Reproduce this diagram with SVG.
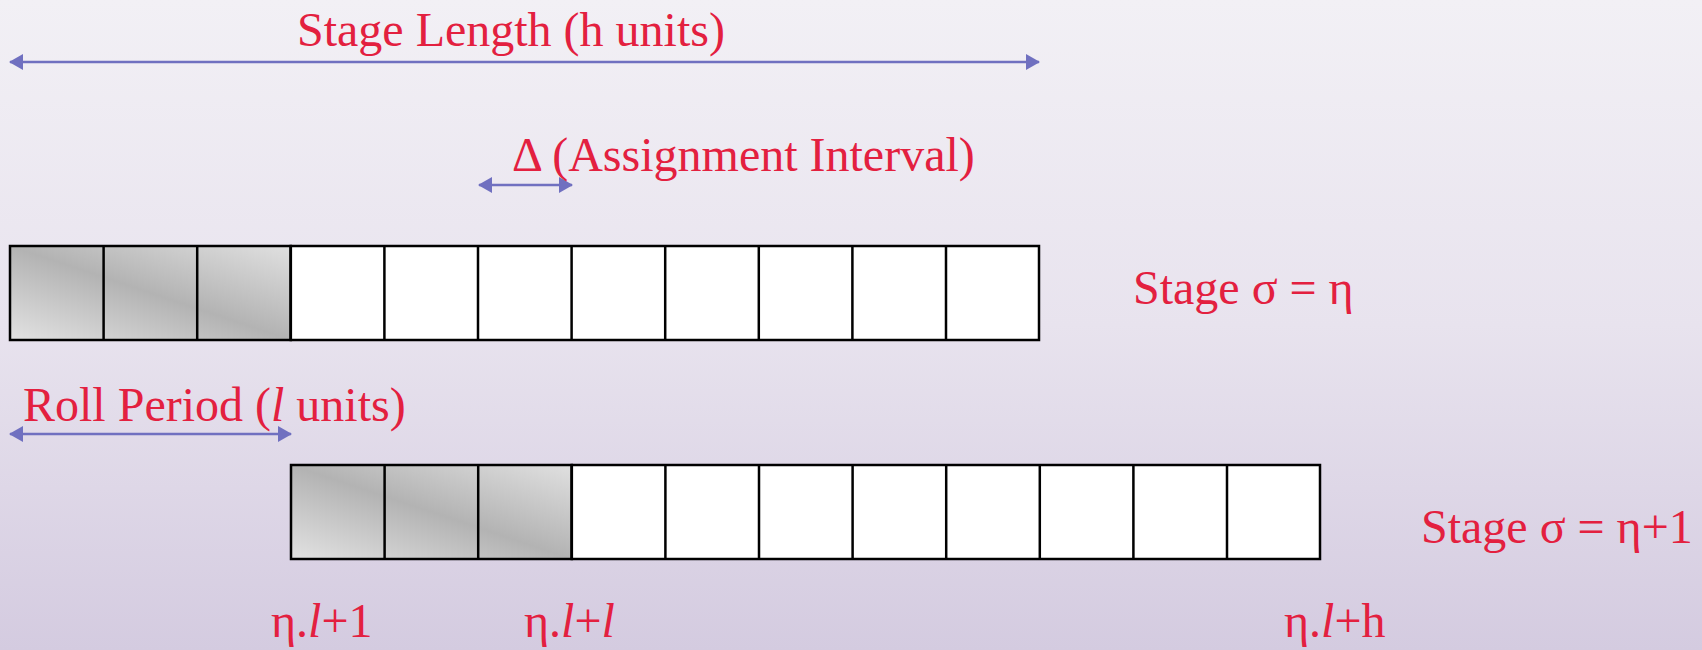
<svg xmlns="http://www.w3.org/2000/svg" width="1702" height="650" viewBox="0 0 1702 650">
<defs>
<linearGradient id="bg" x1="0" y1="0" x2="0" y2="1">
<stop offset="0" stop-color="#F2F0F5"/>
<stop offset="0.5" stop-color="#E8E3EE"/>
<stop offset="1" stop-color="#D4CBE0"/>
</linearGradient>
<linearGradient id="shade" x1="0" y1="1" x2="1" y2="0">
<stop offset="0" stop-color="#E2E2E2"/>
<stop offset="0.5" stop-color="#B3B3B3"/>
<stop offset="1" stop-color="#E0E0E0"/>
</linearGradient>
<marker id="ah" viewBox="0 0 14 16" refX="13" refY="8" markerWidth="14" markerHeight="16" markerUnits="userSpaceOnUse" orient="auto-start-reverse">
<path d="M0,0 L14,8 L0,16 Z" fill="#7070C0"/>
</marker>
</defs>
<style>
.t{font-family:"Liberation Serif","Times New Roman",serif;font-size:48px;fill:#E3203F}
.c{fill:#FFFFFF;stroke:#000;stroke-width:2.5}
.s{fill:url(#shade);stroke:#000;stroke-width:2.5}
.a{stroke:#7070C0;stroke-width:2.5;fill:none;marker-start:url(#ah);marker-end:url(#ah)}
</style>
<rect x="0" y="0" width="1702" height="650" fill="url(#bg)"/>

<g id="stage-eta">
<rect class="s" x="10" y="246" width="280.8" height="94"/>
<rect class="c" x="290.8" y="246" width="748.2" height="94"/>
<path d="M103.6,246V340M197.2,246V340M290.8,246V340M384.4,246V340M478,246V340M571.6,246V340M665.2,246V340M758.8,246V340M852.4,246V340M946,246V340" stroke="#000" stroke-width="2.5"/>
</g>

<g id="stage-eta-plus-1">
<rect class="s" x="291" y="465" width="280.8" height="94"/>
<rect class="c" x="571.8" y="465" width="748.2" height="94"/>
<path d="M384.6,465V559M478.2,465V559M571.8,465V559M665.4,465V559M759,465V559M852.6,465V559M946.2,465V559M1039.8,465V559M1133.4,465V559M1227,465V559" stroke="#000" stroke-width="2.5"/>
</g>

<g id="connectors">
<line class="a" x1="10" y1="62" x2="1039" y2="62"/>
<line class="a" x1="479" y1="185" x2="572" y2="185"/>
<line class="a" x1="10" y1="434" x2="291" y2="434"/>
</g>

<g id="label-stage-length"><text class="t" x="297" y="46">Stage Length (h units)</text></g>
<g id="label-delta"><text class="t" x="512" y="171">Δ (Assignment Interval)</text></g>
<g id="label-roll"><text class="t" x="23" y="421">Roll Period (<tspan font-style="italic">l</tspan> units)</text></g>
<g id="label-stage-eta"><text class="t" x="1133" y="304">Stage σ = η</text></g>
<g id="label-stage-eta1"><text class="t" x="1421" y="543">Stage σ = η+1</text></g>
<g id="label-t1"><text class="t" x="271" y="637">η.<tspan font-style="italic">l</tspan>+1</text></g>
<g id="label-t2"><text class="t" x="524" y="637">η.<tspan font-style="italic">l</tspan>+<tspan font-style="italic">l</tspan></text></g>
<g id="label-t3"><text class="t" x="1284" y="637">η.<tspan font-style="italic">l</tspan>+h</text></g>
</svg>
